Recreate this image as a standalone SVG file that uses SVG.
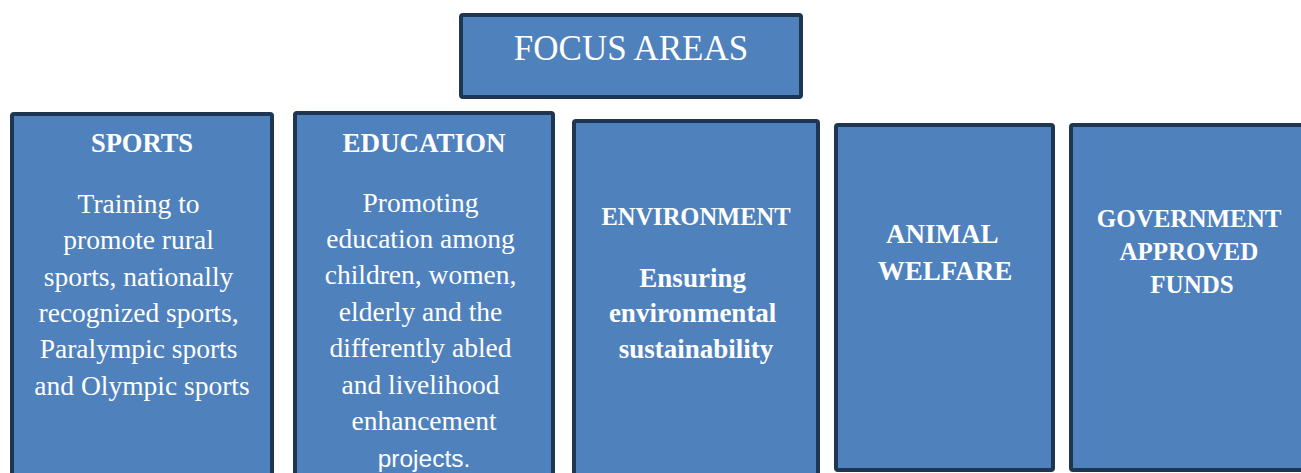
<svg xmlns="http://www.w3.org/2000/svg" width="1301" height="473" viewBox="0 0 1301 473">
<style>
.box{fill:#4f81bd;stroke:#1f3652;stroke-width:4}
.t{font-family:"Liberation Serif","Times New Roman",serif;fill:#ffffff;text-anchor:middle}
.b{font-weight:bold}
.s{font-family:"Liberation Sans",Arial,sans-serif;fill:#ffffff;text-anchor:middle}
</style>
<rect width="1301" height="473" fill="#ffffff"/>
<g id="focus-areas">
<rect class="box" x="461" y="15" width="340" height="82" rx="2"/>
<text class="t" x="631" y="60" font-size="35">FOCUS AREAS</text>
</g>
<g id="sports">
<rect class="box" x="12" y="114" width="260" height="372" rx="2"/>
<text class="t b" x="142" y="152" font-size="26.5">SPORTS</text>
<text class="t" font-size="27.5">
<tspan x="142" y="213">Training to</tspan>
<tspan x="142" y="249">promote rural</tspan>
<tspan x="142" y="286">sports, nationally</tspan>
<tspan x="142" y="322">recognized sports,</tspan>
<tspan x="142" y="358">Paralympic sports</tspan>
<tspan x="142" y="395">and Olympic sports</tspan>
</text>
</g>
<g id="education">
<rect class="box" x="295" y="113" width="258" height="372" rx="2"/>
<text class="t b" x="424" y="152" font-size="27">EDUCATION</text>
<text class="t" font-size="27.5">
<tspan x="424" y="212">Promoting</tspan>
<tspan x="424" y="248">education among</tspan>
<tspan x="424" y="284">children, women,</tspan>
<tspan x="424" y="321">elderly and the</tspan>
<tspan x="424" y="357">differently abled</tspan>
<tspan x="424" y="394">and livelihood</tspan>
<tspan x="424" y="430">enhancement</tspan>
</text>
<text class="s" x="424" y="467" font-size="24.5">projects.</text>
</g>
<g id="environment">
<rect class="box" x="574" y="121" width="244" height="365" rx="2"/>
<text class="t b" x="696" y="225" font-size="24.5">ENVIRONMENT</text>
<text class="t b" font-size="27">
<tspan x="696" y="287">Ensuring</tspan>
<tspan x="696" y="322">environmental</tspan>
<tspan x="696" y="358">sustainability</tspan>
</text>
</g>
<g id="animal-welfare">
<rect class="box" x="836" y="125" width="217" height="345" rx="2"/>
<text class="t b" font-size="27">
<tspan x="945" y="243">ANIMAL</tspan>
<tspan x="945" y="280">WELFARE</tspan>
</text>
</g>
<g id="government-approved-funds">
<rect class="box" x="1071" y="125" width="250" height="345" rx="2"/>
<text class="t b" font-size="25">
<tspan x="1192" y="227">GOVERNMENT</tspan>
<tspan x="1192" y="260">APPROVED</tspan>
<tspan x="1192" y="293">FUNDS</tspan>
</text>
</g>
<g id="connectors"></g>
</svg>
